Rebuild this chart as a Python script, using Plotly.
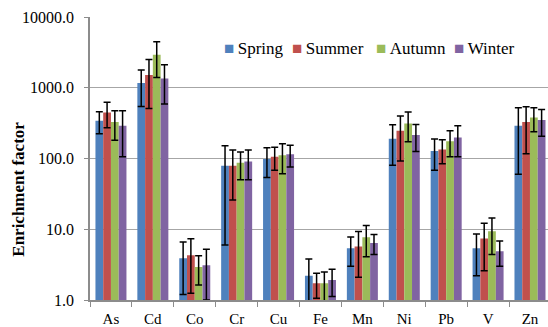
import plotly.graph_objects as go

elements = ["As", "Cd", "Co", "Cr", "Cu", "Fe", "Mn", "Ni", "Pb", "V", "Zn"]
seasons = ["Spring", "Summer", "Autumn", "Winter"]
colors = ["#4F81BD", "#C0504D", "#9BBB59", "#8064A2"]

# Mean enrichment factors per season
spring = [341, 1165, 3.9, 79, 98, 2.2, 5.4, 190, 128, 5.4, 290]
summer = [448, 1510, 4.3, 79, 106, 1.72, 5.7, 246, 134, 7.4, 327]
autumn = [327, 2930, 2.93, 87, 111, 1.72, 7.7, 313, 176, 9.4, 380]
winter = [290, 1355, 3.1, 91, 115, 1.92, 6.4, 214, 198, 4.9, 350]

# Standard deviations
spring_sd = [118, 620, 2.7, 73, 44, 1.6, 2.4, 110, 60, 3.2, 230]
summer_sd = [177, 1000, 3.05, 53, 38, 0.66, 3.6, 154, 50, 4.8, 210]
autumn_sd = [146, 1530, 1.3, 37, 50, 0.77, 3.6, 140, 70, 5.0, 142]
winter_sd = [184, 765, 2.1, 41, 39, 0.8, 2.0, 88, 92, 1.9, 143]

y_tickvals = [1, 10, 100, 1000, 10000]
y_ticktext = ["1.0", "10.0", "100.0", "1000.0", "10000.0"]

# Legend entry anchors (paper coordinates) for the compact in-plot legend
legend_x = [0.288, 0.437, 0.620, 0.791]
legend_y = 0.888

font_family = "Liberation Serif"

fig = go.Figure()
for name, vals, sds, col in zip(
    seasons,
    [spring, summer, autumn, winter],
    [spring_sd, summer_sd, autumn_sd, winter_sd],
    colors,
):
    fig.add_trace(go.Bar(
        name=name,
        x=elements,
        y=vals,
        marker=dict(color=col, line=dict(width=0)),
        error_y=dict(type="data", array=sds, visible=True,
                     color="black", thickness=1.5, width=3.5),
    ))

annotations = [dict(
    text="<b>Enrichment factor</b>",
    xref="paper", yref="paper",
    x=-0.18, y=0.39,
    textangle=-90, showarrow=False,
    font=dict(family=font_family, size=17, color="black"),
)]
for name, col, lx in zip(seasons, colors, legend_x):
    annotations.append(dict(
        text=f'<span style="color:{col}">■</span>\u2009{name}',
        xref="paper", yref="paper",
        x=lx, y=legend_y, xanchor="left", yanchor="middle",
        showarrow=False,
        font=dict(family=font_family, size=17, color="black"),
    ))

fig.update_layout(
    width=548, height=327,
    margin=dict(l=90, r=0, t=17, b=27),
    barmode="group",
    bargap=0.26,
    bargroupgap=0,
    plot_bgcolor="white",
    paper_bgcolor="white",
    font=dict(family=font_family, size=15, color="black"),
    showlegend=False,
    annotations=annotations,
)

fig.update_xaxes(
    type="category",
    range=[-0.5, 10.43],
    showline=True, linecolor="#8C8C8C", linewidth=1.5,
    ticks="outside", tickson="boundaries", ticklen=5, tickcolor="#8C8C8C",
    ticklabelstandoff=4,
    showgrid=False,
    tickfont=dict(family=font_family, size=15),
)
fig.update_yaxes(
    type="log",
    range=[0, 4],
    tickvals=y_tickvals, ticktext=y_ticktext,
    showline=True, linecolor="#8C8C8C", linewidth=1.5,
    ticks="outside", ticklen=4, tickcolor="#8C8C8C",
    ticklabelstandoff=7,
    showgrid=True, gridcolor="#A6A6A6", gridwidth=1,
    zeroline=False,
    tickfont=dict(family=font_family, size=16),
)

fig.write_html("out.html")
